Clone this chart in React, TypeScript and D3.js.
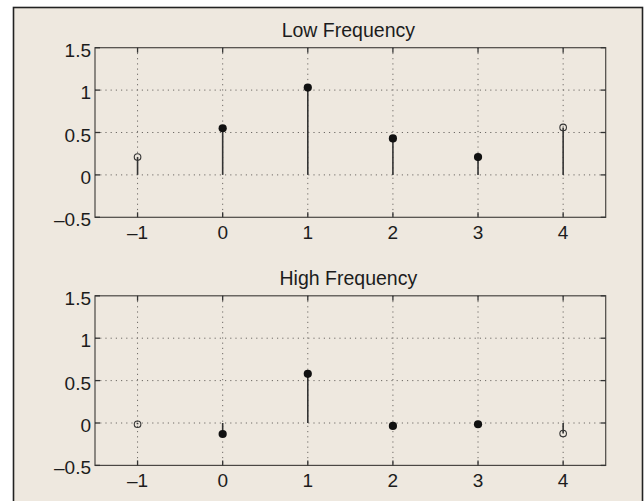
import React from "react";
import * as d3 from "d3";

const xValues = [-1, 0, 1, 2, 3, 4];
const lowValues = [0.21, 0.55, 1.03, 0.43, 0.21, 0.56];
const highValues = [-0.015, -0.13, 0.58, -0.035, -0.015, -0.125];
const openFlags = [true, false, false, false, false, true];
const xTicks = [-1, 0, 1, 2, 3, 4];
const yTicks = [-0.5, 0, 0.5, 1, 1.5];
const titles = ["Low Frequency", "High Frequency"];

const W = 644;
const H = 501;
const FONT = "'Liberation Sans', Arial, Helvetica, sans-serif";

function fmt(v: number) {
  const s = String(v);
  return s.replace("-", "\u2013");
}

function Panel({ top, title, values }: { top: number; title: string; values: number[] }) {
  const left = 95;
  const right = 605.7;
  const height = 169.6;
  const x = d3.scaleLinear().domain([-1.5, 4.5]).range([left, right]);
  const y = d3.scaleLinear().domain([-0.5, 1.5]).range([top + height, top]);
  const tickLen = 5;
  const gridColor = "#6e6a66";
  return (
    <g>
      <text
        x={(left + right) / 2 - 2}
        y={top - 10.5}
        textAnchor="middle"
        fontFamily={FONT}
        fontSize={19.5}
        fill="#1c1c1c"
      >
        {title}
      </text>
      {xTicks.map((t) => (
        <line
          key={"gx" + t}
          x1={x(t)}
          x2={x(t)}
          y1={top}
          y2={top + height}
          stroke={gridColor}
          strokeWidth={1}
          strokeDasharray="1.2,4"
        />
      ))}
      {yTicks
        .filter((t) => t > -0.5 && t < 1.5)
        .map((t) => (
          <line
            key={"gy" + t}
            x1={left}
            x2={right}
            y1={y(t)}
            y2={y(t)}
            stroke={gridColor}
            strokeWidth={1}
            strokeDasharray="1.2,4"
          />
        ))}
      <rect
        x={left}
        y={top}
        width={right - left}
        height={height}
        fill="none"
        stroke="#4a4744"
        strokeWidth={1.2}
      />
      {xTicks.map((t) => (
        <g key={"tx" + t}>
          <line x1={x(t)} x2={x(t)} y1={top + height} y2={top + height - tickLen} stroke="#333" strokeWidth={1.3} />
          <line x1={x(t)} x2={x(t)} y1={top} y2={top + tickLen} stroke="#333" strokeWidth={1.3} />
          <text
            x={x(t)}
            y={top + height + 22}
            textAnchor="middle"
            fontFamily={FONT}
            fontSize={19}
            fill="#1c1c1c"
          >
            {fmt(t)}
          </text>
        </g>
      ))}
      {yTicks.map((t) => (
        <g key={"ty" + t}>
          <line x1={left} x2={left + tickLen} y1={y(t)} y2={y(t)} stroke="#333" strokeWidth={1.3} />
          <line x1={right} x2={right - tickLen} y1={y(t)} y2={y(t)} stroke="#333" strokeWidth={1.3} />
          <text
            x={left - 4}
            y={y(t) + 9}
            textAnchor="end"
            fontFamily={FONT}
            fontSize={19}
            fill="#1c1c1c"
          >
            {fmt(t)}
          </text>
        </g>
      ))}
      {values.map((v, i) => (
        <line
          key={"s" + i}
          x1={x(xValues[i])}
          x2={x(xValues[i])}
          y1={y(0)}
          y2={y(v)}
          stroke="#333"
          strokeWidth={1.6}
        />
      ))}
      {values.map((v, i) =>
        openFlags[i] ? (
          <circle
            key={"m" + i}
            cx={x(xValues[i])}
            cy={y(v)}
            r={3.3}
            fill="none"
            stroke="#333"
            strokeWidth={1.1}
          />
        ) : (
          <circle key={"m" + i} cx={x(xValues[i])} cy={y(v)} r={4.1} fill="#111" />
        )
      )}
    </g>
  );
}

export default function App() {
  return (
    <svg
      width={W}
      height={H}
      style={{ position: "absolute", left: 0, top: 0, display: "block" }}
    >
      <rect x={0} y={0} width={W} height={H} fill="#ffffff" />
      <rect x={13.5} y={7.5} width={629} height={H + 10} fill="#EEE8DF" stroke="#222" strokeWidth={1.6} />
      <Panel top={47.7} title={titles[0]} values={lowValues} />
      <Panel top={295.8} title={titles[1]} values={highValues} />
    </svg>
  );
}
